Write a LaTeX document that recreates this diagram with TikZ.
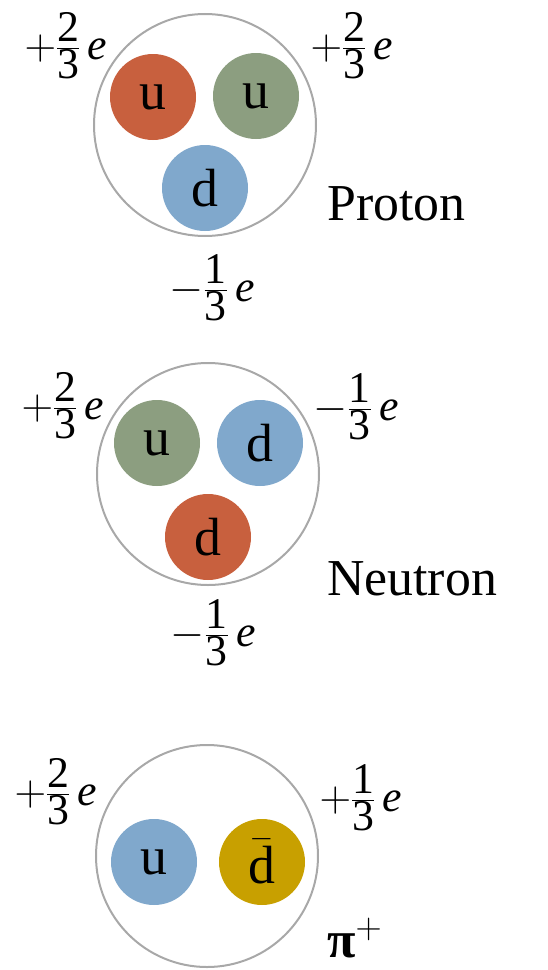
\documentclass[tikz,border=0pt]{standalone}
\usepackage{fix-cm}
\usepackage{amsmath}
\usepackage{fontspec}
\setmainfont{Liberation Serif}
\usetikzlibrary{positioning}

\definecolor{ringgray}{HTML}{A8A8A8}
\definecolor{qred}{HTML}{C8603E}
\definecolor{qgreen}{HTML}{8C9E80}
\definecolor{qblue}{HTML}{80A8CC}
\definecolor{qyellow}{HTML}{C8A000}

% charge as sign, numerator, denominator
\newcommand{\qcharge}[3]{$#1\frac{\mbox{#2}}{\mbox{#3}}\,\mbox{\itshape e}$}

\begin{document}
\begin{tikzpicture}[x=1bp, y=-1bp,
  hadron/.style={draw=ringgray, line width=2bp, circle, minimum size=222bp, inner sep=0pt},
  quark/.style={circle, minimum size=86bp, inner sep=0pt, font=\fontsize{54}{60}\selectfont},
  charge/.style={inner sep=0pt, font=\fontsize{44}{50}\selectfont},
  partname/.style={anchor=base west, inner sep=0pt, font=\fontsize{52}{62}\selectfont}]
  \useasboundingbox (0,0) rectangle (548,970);

  % proton
  \node[hadron] (P) at (205,125) {};
  \node[quark, fill=qred] (Pu1) at (153,97) {u};
  \node[quark, fill=qgreen] (Pu2) at (256,96) {u};
  \node[quark, fill=qblue] (Pd) at (205,188) {d};
  \node[charge] (Pc1) at (66,46) {\qcharge{+}{2}{3}};
  \node[charge] (Pc2) at (352,46) {\qcharge{+}{2}{3}};
  \node[charge] (Pc3) at (212,288) {\qcharge{-}{1}{3}};
  \node[partname] (Pname) at (327,220) {Proton};

  % neutron
  \node[hadron] (N) at (208,474) {};
  \node[quark, fill=qgreen] (Nu) at (157,443) {u};
  \node[quark, fill=qblue] (Nd1) at (260,443) {d};
  \node[quark, fill=qred] (Nd2) at (208,537) {d};
  \node[charge] (Nc1) at (63,406) {\qcharge{+}{2}{3}};
  \node[charge] (Nc2) at (356,407) {\qcharge{-}{1}{3}};
  \node[charge] (Nc3) at (213,633) {\qcharge{-}{1}{3}};
  \node[partname] (Nname) at (327,595) {Neutron};

  % pion
  \node[hadron] (Pi) at (207,856) {};
  \node[quark, fill=qblue] (Piu) at (154,862) {u};
  \node[quark, fill=qyellow] (Pid) at (262,862) {$\bar{\text{d}}$};
  \node[charge] (Pic1) at (56,792) {\qcharge{+}{2}{3}};
  \node[charge] (Pic2) at (361,798) {\qcharge{+}{1}{3}};
  \node[partname] (Piname) at (327,957) {\textbf{π}$^{+}$};
\end{tikzpicture}
\end{document}
